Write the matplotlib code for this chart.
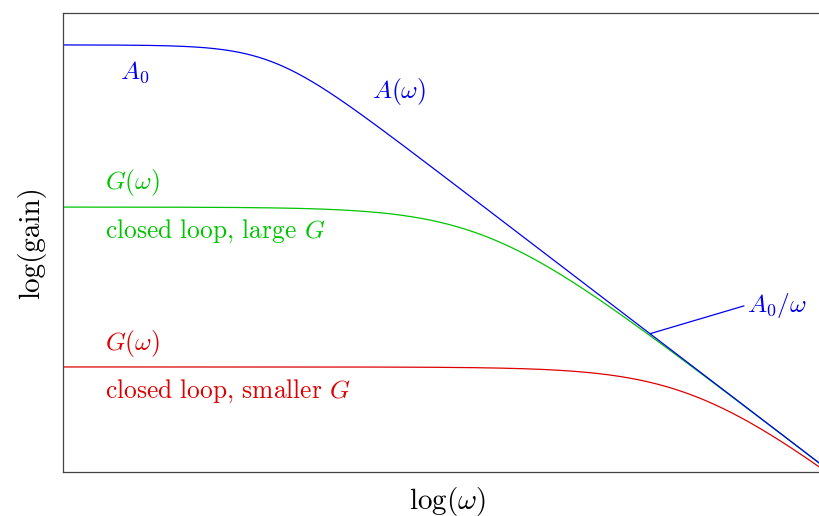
import numpy as np
import matplotlib.pyplot as plt

plt.rcParams['font.family'] = 'serif'
plt.rcParams['font.serif'] = ['cmr10', 'DejaVu Serif']
plt.rcParams['mathtext.fontset'] = 'cm'
plt.rcParams['axes.formatter.use_mathtext'] = True

# levels, in decades (log10)
log_A0 = 2.236          # open loop dc gain
log_w0 = 0.836          # open loop corner, log10(omega)
knee_A = 1.7            # sharpness of the open loop knee
log_G_large = 1.387     # closed loop gain, large G
log_G_small = 0.550     # closed loop gain, smaller G

x_range = [0.0, 3.08]
y_range = [0.0, 2.403]

blue = '#0000ee'
green = '#00c400'
red = '#dd0000'

logw = np.linspace(x_range[0], x_range[1], 600)
w = 10 ** logw
w0 = 10 ** log_w0
A0 = 10 ** log_A0

# open loop A(omega)
u = logw - log_w0
logA = log_A0 - np.log10(1 + 10 ** (2 * knee_A * u)) / (2 * knee_A)

def closed_loop(log_G):
    # G = A / (1 + beta A), single pole open loop
    beta = 1 / 10 ** log_G - 1 / A0
    A = A0 / (1 + 1j * w / w0)
    return np.log10(np.abs(A / (1 + beta * A)))

fig = plt.figure(figsize=(8.2, 5.16), dpi=100)
# the right edge of the frame runs past the picture
ax = fig.add_axes([63 / 820, 44 / 516, 770 / 820, 459 / 516])

ax.plot(logw, closed_loop(log_G_small), color=red, lw=0.9)
ax.plot(logw, closed_loop(log_G_large), color=green, lw=0.9)
ax.plot(logw, logA, color=blue, lw=0.9)

ax.set_xlim(x_range)
ax.set_ylim(y_range)
ax.set_xticks([])
ax.set_yticks([])
for s in ax.spines.values():
    s.set_color('#444444')
    s.set_linewidth(0.9)

fs = 18.3
ax.text(0.228, 2.094, r'$A_0$', color=blue, fontsize=fs, ha='left', va='center')
ax.text(1.236, 1.99, r'$A(\omega)$', color=blue, fontsize=fs, ha='left', va='center')
ax.text(0.168, 1.513, r'$G(\omega)$', color=green, fontsize=fs, ha='left', va='center')
ax.text(0.168, 1.262, r'closed loop, large $G$', color=green, fontsize=fs,
        ha='left', va='center')
ax.text(0.168, 0.675, r'$G(\omega)$', color=red, fontsize=fs, ha='left', va='center')
ax.text(0.168, 0.424, r'closed loop, smaller $G$', color=red, fontsize=fs,
        ha='left', va='center')

x_pt = 2.348
y_pt = log_A0 - (x_pt - log_w0)
ax.annotate(r'$A_0/\omega$', xy=(x_pt, y_pt), xytext=(2.735, 0.874),
            color=blue, fontsize=fs, ha='left', va='center',
            arrowprops=dict(arrowstyle='-', color=blue, lw=0.9,
                            shrinkA=0, shrinkB=0, relpos=(0, 0.5)))

ax.set_xlabel(r'$\log(\omega)$', fontsize=21, labelpad=9)
ax.set_ylabel('log(gain)', fontsize=21, labelpad=12)

fig.savefig('out.png', dpi=100)
